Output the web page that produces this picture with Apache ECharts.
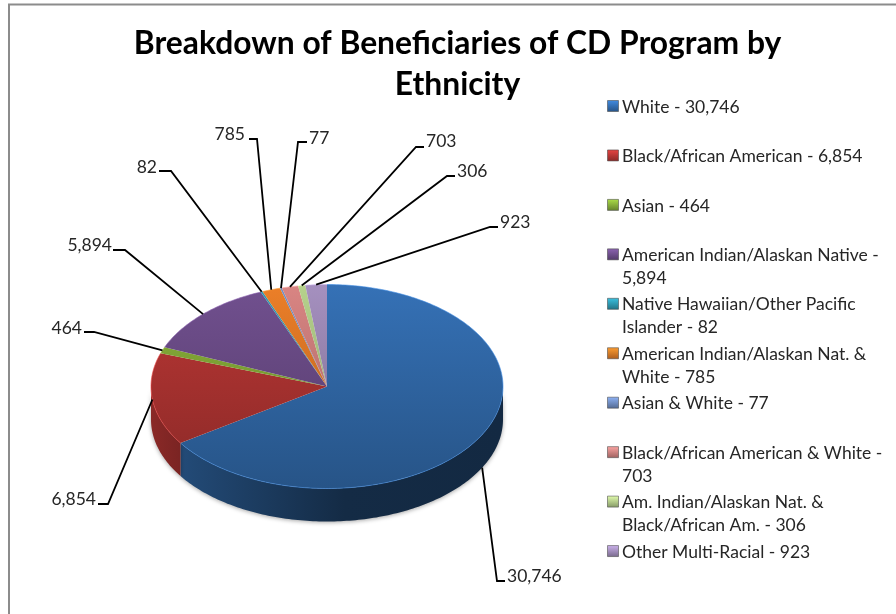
<!DOCTYPE html>
<html>
<head>
<meta charset="utf-8">
<title>Breakdown of Beneficiaries of CD Program by Ethnicity</title>
<script src="https://cdn.jsdelivr.net/npm/echarts@6/dist/echarts.min.js"></script>
<style>
  html, body { margin: 0; padding: 0; background: #fff; }
  #chart { width: 896px; height: 614px; }
</style>
</head>
<body>
<div id="chart"></div>
<script>
// chart data
var categories = ['White', 'Black/African American', 'Asian', 'American Indian/Alaskan Native',
  'Native Hawaiian/Other Pacific Islander', 'American Indian/Alaskan Nat. & White', 'Asian & White',
  'Black/African American & White', 'Am. Indian/Alaskan Nat. & Black/African Am.', 'Other Multi-Racial'];
var values = [30746, 6854, 464, 5894, 82, 785, 77, 703, 306, 923];
var legendLabels = ['White - 30,746', 'Black/African American - 6,854', 'Asian - 464',
  'American Indian/Alaskan Native -\n5,894', 'Native Hawaiian/Other Pacific\nIslander - 82',
  'American Indian/Alaskan Nat. &\nWhite - 785', 'Asian & White - 77',
  'Black/African American & White -\n703', 'Am. Indian/Alaskan Nat. &\nBlack/African Am. - 306',
  'Other Multi-Racial - 923'];
var titleText = 'Breakdown of Beneficiaries of CD Program by\nEthnicity';

// styling, one colour per slice
var colors = ['#3571b6', '#bb3735', '#8ab23a', '#71508f', '#2f9cb5', '#ec7f28', '#7290c6', '#d98583', '#b6d28c', '#a590bf'];

// leader line layout: text position, elbow x/y and the end of the short stub
var leaderLayout = [
  { textX: 507, textY: 576, elbowX: 497, elbowY: 581, stubX: 505, align: 'left' },
  { textX: 96, textY: 499, elbowX: 108, elbowY: 504, stubX: 98, align: 'right' },
  { textX: 82, textY: 328, elbowX: 94, elbowY: 332, stubX: 84, align: 'right' },
  { textX: 112, textY: 245, elbowX: 125, elbowY: 250, stubX: 113, align: 'right' },
  { textX: 157, textY: 167, elbowX: 171, elbowY: 171, stubX: 159, align: 'right' },
  { textX: 245, textY: 134, elbowX: 257, elbowY: 139, stubX: 249, align: 'right' },
  { textX: 309, textY: 138, elbowX: 298, elbowY: 142, stubX: 307, align: 'left' },
  { textX: 426, textY: 141, elbowX: 416, elbowY: 147, stubX: 424, align: 'left' },
  { textX: 457, textY: 171, elbowX: 447, elbowY: 176, stubX: 455, align: 'left' },
  { textX: 500, textY: 222, elbowX: 490, elbowY: 227, stubX: 498, align: 'left' }
];

var FONT = 'Lato, "Open Sans", sans-serif';
var TEXT_COLOR = '#262626';
var cx = 327, cy = 386.5, rx = 176, ry = 102, depth = 33;

var total = values.reduce(function (a, b) { return a + b; }, 0);
var startAngles = [];
var running = 0;
values.forEach(function (v) {
  startAngles.push(running / total * 360);
  running += v;
});

function shade(hex, f) {
  var n = parseInt(hex.slice(1), 16);
  var r = Math.min(255, Math.round((n >> 16 & 255) * f));
  var g = Math.min(255, Math.round((n >> 8 & 255) * f));
  var b = Math.min(255, Math.round((n & 255) * f));
  return 'rgb(' + r + ',' + g + ',' + b + ')';
}

// angle in degrees, clockwise from 12 o'clock, on the squashed circle
function rim(deg, dy) {
  var a = deg * Math.PI / 180;
  return [cx + rx * Math.sin(a), cy - ry * Math.cos(a) + (dy || 0)];
}

function arc(from, to, dy) {
  var pts = [];
  var steps = Math.max(2, Math.ceil(to - from));
  for (var i = 0; i <= steps; i++) {
    pts.push(rim(from + (to - from) * i / steps, dy));
  }
  return pts;
}

function renderSlice(params, api) {
  var i = api.value(0);
  var span = api.value(1) / total * 360;
  var from = startAngles[i], to = from + span, mid = from + span / 2;
  var color = colors[i];
  var children = [];

  // side wall only shows on the front half
  var sideFrom = Math.max(from, 90), sideTo = Math.min(to, 270);
  if (sideTo > sideFrom) {
    children.push({
      type: 'polygon',
      shape: { points: arc(sideFrom, sideTo, 0).concat(arc(sideFrom, sideTo, depth).reverse()) },
      style: {
        fill: {
          type: 'linear', global: true, x: cx - rx, y: 0, x2: cx + rx, y2: 0,
          colorStops: [
            { offset: 0, color: shade(color, 0.74) },
            { offset: 0.08, color: shade(color, 0.66) },
            { offset: 0.55, color: shade(color, 0.38) },
            { offset: 1, color: shade(color, 0.36) }
          ]
        },
        shadowBlur: 4, shadowColor: 'rgba(0,0,0,0.35)', shadowOffsetY: 1
      }
    });
  }

  // top face
  children.push({
    type: 'polygon',
    shape: { points: [[cx, cy]].concat(arc(from, to, 0)) },
    style: {
      fill: {
        type: 'linear', global: true, x: 0, y: cy - ry, x2: 0, y2: cy + ry,
        colorStops: [
          { offset: 0, color: color },
          { offset: 1, color: shade(color, 0.74) }
        ]
      }
    }
  });
  children.push({
    type: 'polyline',
    shape: { points: arc(from, to, 0) },
    style: { fill: null, stroke: shade(color, 1.25), lineWidth: 1, opacity: 0.6 }
  });

  // leader line, anchored at the slice middle
  var l = leaderLayout[i];
  var onSide = mid > 90 && mid < 240;
  var anchor = rim(mid, onSide ? depth : 0);
  children.push({
    type: 'polyline',
    z2: 10,
    shape: { points: [anchor, [l.elbowX, l.elbowY], [l.stubX, l.elbowY]] },
    style: { fill: null, stroke: '#000', lineWidth: 1.8 }
  });
  children.push({
    type: 'text',
    z2: 10,
    style: {
      text: api.value(1).toLocaleString('en-US'),
      x: l.textX, y: l.textY,
      align: l.align, verticalAlign: 'middle',
      fontFamily: FONT, fontSize: 17.5, fill: TEXT_COLOR
    }
  });
  return { type: 'group', children: children };
}

// legend is drawn by hand because the rows sit on a fixed pitch with the marker on the first line
var legendGraphics = [];
legendLabels.forEach(function (label, i) {
  var y = 106 + i * 49.45;
  legendGraphics.push({
    type: 'rect',
    shape: { x: 607.5, y: y - 5.5, width: 11, height: 11 },
    style: {
      fill: {
        type: 'linear', x: 0, y: 0, x2: 0, y2: 1,
        colorStops: [
          { offset: 0, color: shade(colors[i], 1.25) },
          { offset: 1, color: shade(colors[i], 0.72) }
        ]
      },
      stroke: 'rgba(70,70,70,0.55)', lineWidth: 1
    }
  });
  legendGraphics.push({
    type: 'text',
    style: {
      text: label, x: 622, y: y - 10.5,
      fontFamily: FONT, fontSize: 17.5, lineHeight: 23, fill: TEXT_COLOR
    }
  });
});

// chart frame, only left and top show in the crop
legendGraphics.push({
  type: 'polyline',
  shape: { points: [[9, 614], [9, 4.5], [896, 4.5]] },
  style: { fill: null, stroke: '#8c8c8c', lineWidth: 2 }
});

var chart = echarts.init(document.getElementById('chart'), null, { renderer: 'canvas' });
chart.setOption({
  backgroundColor: '#fff',
  animation: false,
  title: {
    text: titleText,
    left: 452.5,
    top: 18,
    textAlign: 'center',
    textStyle: { fontFamily: FONT, fontSize: 31.8, fontWeight: 'bold', color: '#000', lineHeight: 41 }
  },
  graphic: legendGraphics,
  series: [{
    type: 'custom',
    name: 'Beneficiaries',
    coordinateSystem: 'none',
    renderItem: renderSlice,
    data: values.map(function (v, i) { return { name: categories[i], value: [i, v] }; })
  }]
});
</script>
</body>
</html>
